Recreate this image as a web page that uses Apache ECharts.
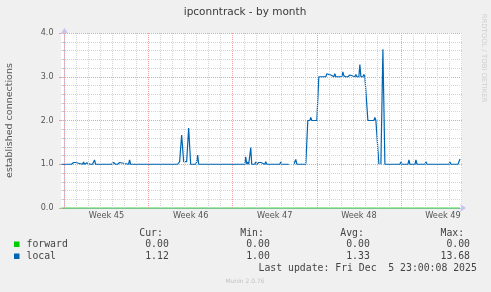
<!DOCTYPE html>
<html><head><meta charset="utf-8">
<script src="https://cdn.jsdelivr.net/npm/echarts@6/dist/echarts.min.js"></script>
<style>html,body{margin:0;padding:0;background:#f0f0f0}#c{width:491px;height:292px}</style>
</head><body><div id="c"></div>
<script>
const chartTitle = 'ipconntrack - by month';
const yAxisName = 'established connections';
// x values: hours since Monday 3 Nov 2025 00:00 (start of ISO week 45)
const xMin = -7, xMax = 794;
const weekLabels = ['Week 45', 'Week 46', 'Week 47', 'Week 48', 'Week 49'];
const weekMidHours = [84, 252, 420, 588, 756];
const yTickLabels = ['0.0', '1.0', '2.0', '3.0', '4.0'];
const seriesNames = ['forward', 'local'];
const seriesColors = ['#00cc00', '#0066b3'];
const forwardPoints = [[-6, 0], [790, 0]];
const localPoints = [
  [-6, 1.0], [-4, 1.04], [-2, 1.0],
  [10, 1.0], [12, 1.04], [14, 1.0], [16, 1.0], [18, 1.04], [20, 1.0], [22, 1.04], [24, 1.0],
  [36, 1.0], [38, 1.05], [40, 1.0], [42, 1.0], [44, 1.03], [46, 1.0],
  [52, 1.0], [54, 1.04], [56, 1.0], [58, 1.0], [60, 1.1], [62, 1.0],
  [68, 1.0], [70, 1.04], [72, 1.0], [76, 1.0], [78, 1.04], [80, 1.0],
  [90, 1.0], [92, 1.04], [94, 1.0], [96, 1.0], [98, 1.04], [100, 1.0], [102, 1.0], [104, 1.04], [106, 1.0], [108, 1.0], [110, 1.04], [112, 1.0],
  [128, 1.0], [130, 1.1], [132, 1.0],
  [142, 1.0], [144, 1.04], [146, 1.0],
  [154, 1.0], [156, 1.04], [158, 1.0],
  [202, 1.0], [204, 1.04], [206, 1.0],
  [216, 1.0], [218, 1.04], [220, 1.0],
  [226, 1.0], [230, 1.06], [234, 1.67], [238, 1.06], [244, 1.06], [248, 1.83], [252, 1.0],
  [262, 1.0], [264, 1.05], [266, 1.21], [268, 1.0],
  [282, 1.0], [284, 1.04], [286, 1.0],
  [298, 1.0], [300, 1.04], [302, 1.0],
  [318, 1.0], [320, 1.04], [322, 1.0],
  [326, 1.0], [328, 1.04], [330, 1.0],
  [338, 1.0], [340, 1.04], [342, 1.0],
  [360, 1.0], [362, 1.17], [364, 1.0], [366, 1.05], [368, 1.0], [370, 1.0], [372, 1.38], [374, 1.0],
  [380, 1.0], [382, 1.05], [384, 1.0],
  [386, 1.0], [388, 1.04], [390, 1.0], [392, 1.04], [394, 1.0],
  [400, 1.0], [402, 1.06], [404, 1.0],
  [412, 1.0], [414, 1.04], [416, 1.0],
  [422, 1.0], [424, 1.04], [426, 1.0],
  [430, 1.0], [432, 1.05], [434, 1.0], [436, 1.04], [438, 1.0],
  [448, 1.0], [452, null],
  [458, 1.0], [460, 1.0], [462, 1.11], [464, 1.0],
  [482, 1.0], [486, 2.0], [490, 2.0], [492, 2.07], [494, 2.0], [504, 2.0], [508, 3.0],
  [522, 3.0], [524, 3.07], [526, 3.03], [528, 3.05], [530, 3.03], [532, 3.04], [534, 3.0], [538, 3.0], [540, 3.07], [542, 3.0],
  [554, 3.0], [556, 3.11], [558, 3.02], [560, 3.05], [562, 3.0], [564, 3.04], [566, 3.0], [568, 3.0], [570, 3.04], [572, 3.0],
  [580, 3.0], [582, 3.05], [584, 3.0], [588, 3.0], [590, 3.28], [592, 3.0], [594, 3.03], [596, 3.0], [598, 3.05], [600, 3.0],
  [606, 2.0], [618, 2.0], [620, 2.07], [622, 2.0], [624, 1.97], [628, 1.0], [630, null],
  [632, 1.0], [636, 3.63], [640, 1.0],
  [666, 1.0], [668, 1.03], [670, 1.0], [672, 1.05], [674, 1.0],
  [686, 1.0], [688, 1.1], [690, 1.0],
  [700, 1.0], [702, 1.1], [704, 1.0],
  [712, 1.0], [714, 1.04], [716, 1.0], [718, 1.03], [720, 1.0], [722, 1.06], [724, 1.0],
  [742, 1.0], [744, 1.04], [746, 1.0],
  [768, 1.0], [770, 1.05], [772, 1.0], [774, 1.04], [776, 1.0],
  [782, 1.0], [784, 1.04], [786, 1.0], [790, 1.12]
];
const statHeaders = ['Cur:', 'Min:', 'Avg:', 'Max:'];
const forwardStats = ['0.00', '0.00', '0.00', '0.00'];
const localStats = ['1.12', '1.00', '1.33', '13.68'];
const lastUpdate = 'Last update: Fri Dec  5 23:00:08 2025';
const versionText = 'Munin 2.0.76';
const watermark = 'RRDTOOL / TOBI OETIKER';

const SANS = 'DejaVu Sans', MONO = 'DejaVu Sans Mono';
const minorColor = '#d4d4d4', majorColor = '#eea0a0', axisColor = '#c4c4ec';

// vertical grid lines: every day (minor), every week (major)
const dayLines = [], weekLines = [];
for (let h = 0; h <= xMax; h += 24) {
  if (h % 168 === 0) weekLines.push({ xAxis: h }); else dayLines.push({ xAxis: h });
}

const colRight = [168.8, 269.8, 369.8, 470];
const mono = (text, x, y, align, color) => ({
  type: 'text', x, y, silent: true,
  style: { text, fill: color || '#444', font: '9.8px "' + MONO + '"', textAlign: align || 'left', textVerticalAlign: 'middle' }
});
const graphics = [
  { type: 'text', x: 245, y: 12, silent: true,
    style: { text: chartTitle, fill: '#3a3a3a', font: '10.5px "' + SANS + '"', textAlign: 'center', textVerticalAlign: 'middle' } },
  { type: 'text', x: 484, y: 58, rotation: -Math.PI / 2, silent: true,
    style: { text: watermark, fill: '#cfcfcf', font: '6.9px "' + SANS + '"', textAlign: 'center', textVerticalAlign: 'middle' } },
  { type: 'text', x: 245, y: 281.5, silent: true,
    style: { text: versionText, fill: '#c2c2c2', font: '6px "' + SANS + '"', textAlign: 'center', textVerticalAlign: 'middle' } },
  { type: 'rect', shape: { x: 14, y: 241.5, width: 5.5, height: 5.5 }, style: { fill: seriesColors[0] }, silent: true },
  { type: 'rect', shape: { x: 14, y: 253.5, width: 5.5, height: 5.5 }, style: { fill: seriesColors[1] }, silent: true },
  mono(seriesNames[0], 26.5, 244.5),
  mono(seriesNames[1], 26.5, 256.5),
  mono(lastUpdate, 476.8, 268.7, 'right')
];
statHeaders.forEach((t, i) => graphics.push(mono(t, colRight[i] - 5.9, 233.3, 'right')));
forwardStats.forEach((t, i) => graphics.push(mono(t, colRight[i], 244.5, 'right')));
localStats.forEach((t, i) => graphics.push(mono(t, colRight[i], 256.5, 'right')));

const chart = echarts.init(document.getElementById('c'), null, { renderer: 'canvas' });
chart.setOption({
  animation: false,
  backgroundColor: '#f0f0f0',
  grid: { left: 61, right: 29, top: 33, bottom: 84, show: true, backgroundColor: '#ffffff', borderWidth: 0,
          containLabel: false, outerBoundsMode: 'none' },
  xAxis: {
    type: 'value', min: xMin, max: xMax,
    axisLine: { show: true, lineStyle: { color: axisColor, width: 1 }, symbol: ['none', 'arrow'], symbolSize: [6, 6], symbolOffset: [0, 4] },
    axisTick: { show: false },
    splitLine: { show: false },
    axisLabel: {
      customValues: weekMidHours, margin: 4, color: '#555', fontFamily: SANS, fontSize: 8.2,
      formatter: v => weekLabels[weekMidHours.indexOf(v)] || ''
    }
  },
  yAxis: [
    { type: 'value', min: 0, max: 4, interval: 0.2,
      axisLine: { show: true, lineStyle: { color: axisColor, width: 1 }, symbol: ['none', 'arrow'], symbolSize: [6, 6], symbolOffset: [0, 5] },
      axisTick: { show: true, length: 2, lineStyle: { color: '#bbbbbb' } },
      axisLabel: { show: false },
      splitLine: { show: true, lineStyle: { color: minorColor, type: [1, 1], width: 1 } } },
    { type: 'value', min: 0, max: 4, interval: 1, position: 'left',
      name: yAxisName, nameLocation: 'middle', nameGap: 46,
      nameTextStyle: { color: '#555', fontFamily: SANS, fontSize: 9.5 },
      axisLine: { show: false },
      axisTick: { show: true, length: 2, lineStyle: { color: majorColor } },
      axisLabel: { margin: 7.5, color: '#555', fontFamily: SANS, fontSize: 8, formatter: (v) => yTickLabels[Math.round(v)] },
      splitLine: { show: true, lineStyle: { color: majorColor, type: [1, 1], width: 1 } } }
  ],
  series: [
    { type: 'line', name: 'grid', data: [], z: 1, silent: true,
      markLine: { silent: true, symbol: 'none', label: { show: false },
        data: dayLines.map(d => Object.assign({ lineStyle: { color: minorColor, type: [1, 1], width: 1 } }, d))
          .concat(weekLines.map(d => Object.assign({ lineStyle: { color: majorColor, type: [1, 1], width: 1 } }, d))) } },
    { type: 'line', name: seriesNames[0], data: forwardPoints, z: 3, showSymbol: false, clip: false,
      lineStyle: { color: seriesColors[0], width: 1.6, opacity: 0.5 } },
    { type: 'line', name: seriesNames[1], data: localPoints, z: 4, showSymbol: false, connectNulls: false,
      lineStyle: { color: seriesColors[1], width: 1.2 } }
  ],
  graphic: graphics
});
</script></body></html>
